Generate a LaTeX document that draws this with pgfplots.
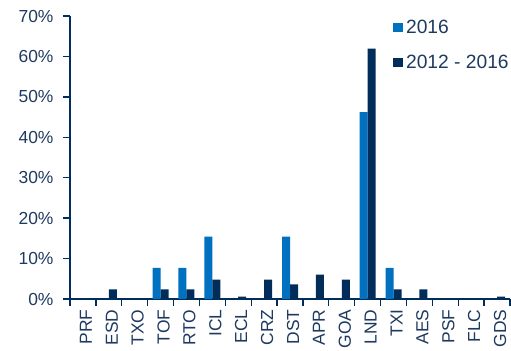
\documentclass[border=0pt]{standalone}
\usepackage{pgfplots}
\pgfplotsset{compat=1.18}
\usepackage{fontspec}
\setmainfont{Liberation Sans}
\definecolor{lblue}{HTML}{0070C0}
\definecolor{navy}{HTML}{002D5A}
\definecolor{txt}{HTML}{1F3A60}
\begin{document}
\begin{tikzpicture}
\begin{axis}[
  scale only axis, width=440bp, height=283bp,
  xmin=0, xmax=17, ymin=0, ymax=70,
  axis x line=bottom, axis y line=left,
  axis line style={navy, line width=1.8bp, -},
  ybar, bar width=8bp,
  /pgf/number format/assume math mode=true,
  ytick={0,10,...,70},
  yticklabel={\pgfmathprintnumber{\tick}\%},
  xtick={0,...,17},
  x tick label as interval,
  xticklabels={PRF,ESD,TXO,TOF,RTO,ICL,ECL,CRZ,DST,APR,GOA,LND,TXI,AES,PSF,FLC,GDS},
  tick align=outside,
  major tick length=7bp,
  tick style={navy, line width=1.3bp},
  tick label style={font=\fontsize{17.5}{20}\selectfont, text=txt},
  yticklabel style={xshift=-6bp},
  xticklabel style={rotate=90, anchor=east, yshift=-3bp},
  legend style={at={(0.727,1.0)}, anchor=north west, draw=none, fill=none,
    font=\fontsize{19.3}{22}\selectfont, text=txt, row sep=16bp,
    cells={anchor=west}},
  legend image code/.code={\fill[#1] (0bp,-4.8bp) rectangle (9.5bp,4.8bp);},
  legend cell align=left,
]
\addplot[fill=lblue, draw=none, bar shift=-4bp] coordinates {
 (0.5,0) (1.5,0) (2.5,0) (3.5,7.7) (4.5,7.7) (5.5,15.4) (6.5,0) (7.5,0) (8.5,15.4)
 (9.5,0) (10.5,0) (11.5,46.2) (12.5,7.7) (13.5,0) (14.5,0) (15.5,0) (16.5,0)};
\addlegendentry{\hspace{1.5bp}2016}
\addplot[fill=navy, draw=none, bar shift=4bp] coordinates {
 (0.5,0) (1.5,2.4) (2.5,0) (3.5,2.4) (4.5,2.4) (5.5,4.8) (6.5,0.6) (7.5,4.8) (8.5,3.6)
 (9.5,6.0) (10.5,4.8) (11.5,61.9) (12.5,2.4) (13.5,2.4) (14.5,0) (15.5,0) (16.5,0.6)};
\addlegendentry{\hspace{1.5bp}2012 - 2016}
\end{axis}
\pgfresetboundingbox
\path (current axis.south west) ++(-70bp,-52bp) rectangle ++(511bp,351bp);
\end{tikzpicture}
\end{document}
